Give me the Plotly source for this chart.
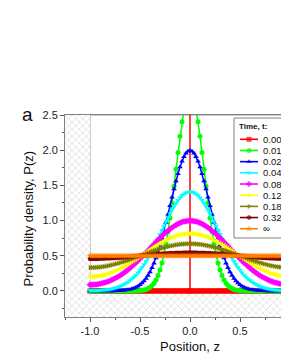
import plotly.graph_objects as go

# ---------------- data ----------------
z = [
    -1.00, -0.98, -0.96, -0.94, -0.92, -0.90, -0.88, -0.86, -0.84, -0.82,
    -0.80, -0.78, -0.76, -0.74, -0.72, -0.70, -0.68, -0.66, -0.64, -0.62,
    -0.60, -0.58, -0.56, -0.54, -0.52, -0.50, -0.48, -0.46, -0.44, -0.42,
    -0.40, -0.38, -0.36, -0.34, -0.32, -0.30, -0.28, -0.26, -0.24, -0.22,
    -0.20, -0.18, -0.16, -0.14, -0.12, -0.10, -0.08, -0.06, -0.04, -0.02,
    0.00,
    0.02, 0.04, 0.06, 0.08, 0.10, 0.12, 0.14, 0.16, 0.18, 0.20,
    0.22, 0.24, 0.26, 0.28, 0.30, 0.32, 0.34, 0.36, 0.38, 0.40,
    0.42, 0.44, 0.46, 0.48, 0.50, 0.52, 0.54, 0.56, 0.58, 0.60,
    0.62, 0.64, 0.66, 0.68, 0.70, 0.72, 0.74, 0.76, 0.78, 0.80,
    0.82, 0.84, 0.86, 0.88, 0.90, 0.92, 0.94, 0.96, 0.98, 1.00,
]

# t = 0: delta spike at z = 0 (grid point 0.00 repeated so the spike is vertical)
z_000 = [
    -1.00, -0.98, -0.96, -0.94, -0.92, -0.90, -0.88, -0.86, -0.84, -0.82,
    -0.80, -0.78, -0.76, -0.74, -0.72, -0.70, -0.68, -0.66, -0.64, -0.62,
    -0.60, -0.58, -0.56, -0.54, -0.52, -0.50, -0.48, -0.46, -0.44, -0.42,
    -0.40, -0.38, -0.36, -0.34, -0.32, -0.30, -0.28, -0.26, -0.24, -0.22,
    -0.20, -0.18, -0.16, -0.14, -0.12, -0.10, -0.08, -0.06, -0.04, -0.02,
    0.00, 0.00, 0.00,
    0.02, 0.04, 0.06, 0.08, 0.10, 0.12, 0.14, 0.16, 0.18, 0.20,
    0.22, 0.24, 0.26, 0.28, 0.30, 0.32, 0.34, 0.36, 0.38, 0.40,
    0.42, 0.44, 0.46, 0.48, 0.50, 0.52, 0.54, 0.56, 0.58, 0.60,
    0.62, 0.64, 0.66, 0.68, 0.70, 0.72, 0.74, 0.76, 0.78, 0.80,
    0.82, 0.84, 0.86, 0.88, 0.90, 0.92, 0.94, 0.96, 0.98, 1.00,
]
p_000 = [
    0, 0, 0, 0, 0, 0, 0, 0, 0, 0,
    0, 0, 0, 0, 0, 0, 0, 0, 0, 0,
    0, 0, 0, 0, 0, 0, 0, 0, 0, 0,
    0, 0, 0, 0, 0, 0, 0, 0, 0, 0,
    0, 0, 0, 0, 0, 0, 0, 0, 0, 0,
    0, 50.0, 0,
    0, 0, 0, 0, 0, 0, 0, 0, 0, 0,
    0, 0, 0, 0, 0, 0, 0, 0, 0, 0,
    0, 0, 0, 0, 0, 0, 0, 0, 0, 0,
    0, 0, 0, 0, 0, 0, 0, 0, 0, 0,
    0, 0, 0, 0, 0, 0, 0, 0, 0, 0,
]

p_001 = [
    0, 0, 0, 0, 0, 0, 0, 0, 0, 0,
    0, 0, 0, 0, 0, 0, 0, 0, 0, 0,
    0, 0.001, 0.001, 0.002, 0.003, 0.005, 0.009, 0.014, 0.022, 0.034,
    0.052, 0.076, 0.110, 0.157, 0.218, 0.297, 0.397, 0.520, 0.668, 0.841,
    1.038, 1.255, 1.487, 1.728, 1.968, 2.197, 2.404, 2.578, 2.710, 2.793,
    2.821,
    2.793, 2.710, 2.578, 2.404, 2.197, 1.968, 1.728, 1.487, 1.255, 1.038,
    0.841, 0.668, 0.520, 0.397, 0.297, 0.218, 0.157, 0.110, 0.076, 0.052,
    0.034, 0.022, 0.014, 0.009, 0.005, 0.003, 0.002, 0.001, 0.001, 0,
    0, 0, 0, 0, 0, 0, 0, 0, 0, 0,
    0, 0, 0, 0, 0, 0, 0, 0, 0, 0,
]

p_002 = [
    0, 0, 0, 0, 0, 0, 0, 0, 0, 0,
    0.001, 0.001, 0.001, 0.002, 0.003, 0.004, 0.006, 0.009, 0.012, 0.016,
    0.022, 0.030, 0.040, 0.052, 0.068, 0.088, 0.112, 0.142, 0.177, 0.220,
    0.270, 0.328, 0.395, 0.470, 0.555, 0.648, 0.749, 0.857, 0.971, 1.089,
    1.210, 1.331, 1.449, 1.562, 1.666, 1.761, 1.842, 1.907, 1.956, 1.985,
    1.995,
    1.985, 1.956, 1.907, 1.842, 1.761, 1.666, 1.562, 1.449, 1.331, 1.210,
    1.089, 0.971, 0.857, 0.749, 0.648, 0.555, 0.470, 0.395, 0.328, 0.270,
    0.220, 0.177, 0.142, 0.112, 0.088, 0.068, 0.052, 0.040, 0.030, 0.022,
    0.016, 0.012, 0.009, 0.006, 0.004, 0.003, 0.002, 0.001, 0.001, 0.001,
    0, 0, 0, 0, 0, 0, 0, 0, 0, 0,
]

p_004 = [
    0.005, 0.005, 0.006, 0.007, 0.008, 0.010, 0.012, 0.014, 0.017, 0.021,
    0.026, 0.031, 0.038, 0.046, 0.055, 0.066, 0.078, 0.093, 0.109, 0.128,
    0.149, 0.172, 0.199, 0.228, 0.260, 0.296, 0.334, 0.376, 0.420, 0.468,
    0.519, 0.572, 0.627, 0.685, 0.743, 0.803, 0.864, 0.924, 0.984, 1.042,
    1.098, 1.152, 1.201, 1.247, 1.289, 1.325, 1.355, 1.379, 1.396, 1.406,
    1.410,
    1.406, 1.396, 1.379, 1.355, 1.325, 1.289, 1.247, 1.201, 1.152, 1.098,
    1.042, 0.984, 0.924, 0.864, 0.803, 0.743, 0.685, 0.627, 0.572, 0.519,
    0.468, 0.420, 0.376, 0.334, 0.296, 0.260, 0.228, 0.199, 0.172, 0.149,
    0.128, 0.109, 0.093, 0.078, 0.066, 0.055, 0.046, 0.038, 0.031, 0.026,
    0.021, 0.017, 0.014, 0.012, 0.010, 0.008, 0.007, 0.006, 0.005, 0.005,
]

p_008 = [
    0.088, 0.088, 0.090, 0.093, 0.097, 0.102, 0.109, 0.116, 0.125, 0.135,
    0.146, 0.159, 0.172, 0.187, 0.203, 0.221, 0.239, 0.260, 0.280, 0.303,
    0.326, 0.351, 0.376, 0.402, 0.429, 0.458, 0.487, 0.516, 0.545, 0.575,
    0.605, 0.635, 0.665, 0.695, 0.724, 0.753, 0.781, 0.808, 0.833, 0.857,
    0.880, 0.901, 0.921, 0.938, 0.954, 0.967, 0.978, 0.986, 0.992, 0.996,
    0.997,
    0.996, 0.992, 0.986, 0.978, 0.967, 0.954, 0.938, 0.921, 0.901, 0.880,
    0.857, 0.833, 0.808, 0.781, 0.753, 0.724, 0.695, 0.665, 0.635, 0.605,
    0.575, 0.545, 0.516, 0.487, 0.458, 0.429, 0.402, 0.376, 0.351, 0.326,
    0.303, 0.280, 0.260, 0.239, 0.221, 0.203, 0.187, 0.172, 0.159, 0.146,
    0.135, 0.125, 0.116, 0.109, 0.102, 0.097, 0.093, 0.090, 0.088, 0.088,
]

p_012 = [
    0.203, 0.203, 0.205, 0.207, 0.212, 0.216, 0.222, 0.228, 0.236, 0.246,
    0.256, 0.266, 0.277, 0.290, 0.304, 0.317, 0.333, 0.348, 0.364, 0.381,
    0.399, 0.416, 0.435, 0.454, 0.472, 0.491, 0.511, 0.530, 0.549, 0.569,
    0.588, 0.606, 0.625, 0.643, 0.660, 0.677, 0.694, 0.709, 0.723, 0.737,
    0.750, 0.762, 0.773, 0.783, 0.791, 0.798, 0.804, 0.809, 0.812, 0.814,
    0.815,
    0.814, 0.812, 0.809, 0.804, 0.798, 0.791, 0.783, 0.773, 0.762, 0.750,
    0.737, 0.723, 0.709, 0.694, 0.677, 0.660, 0.643, 0.625, 0.606, 0.588,
    0.569, 0.549, 0.530, 0.511, 0.491, 0.472, 0.454, 0.435, 0.416, 0.399,
    0.381, 0.364, 0.348, 0.333, 0.317, 0.304, 0.290, 0.277, 0.266, 0.256,
    0.246, 0.236, 0.228, 0.222, 0.216, 0.212, 0.207, 0.205, 0.203, 0.203,
]

p_018 = [
    0.332, 0.332, 0.333, 0.335, 0.337, 0.340, 0.343, 0.347, 0.352, 0.357,
    0.363, 0.370, 0.377, 0.384, 0.392, 0.400, 0.409, 0.418, 0.427, 0.437,
    0.447, 0.457, 0.467, 0.478, 0.488, 0.499, 0.510, 0.520, 0.531, 0.541,
    0.552, 0.562, 0.572, 0.581, 0.590, 0.599, 0.608, 0.616, 0.623, 0.631,
    0.637, 0.643, 0.649, 0.654, 0.658, 0.662, 0.665, 0.667, 0.669, 0.670,
    0.670,
    0.670, 0.669, 0.667, 0.665, 0.662, 0.658, 0.654, 0.649, 0.643, 0.637,
    0.631, 0.623, 0.616, 0.608, 0.599, 0.590, 0.581, 0.572, 0.562, 0.552,
    0.541, 0.531, 0.520, 0.510, 0.499, 0.488, 0.478, 0.467, 0.457, 0.447,
    0.437, 0.427, 0.418, 0.409, 0.400, 0.392, 0.384, 0.377, 0.370, 0.363,
    0.357, 0.352, 0.347, 0.343, 0.340, 0.337, 0.335, 0.333, 0.332, 0.332,
]

p_032 = [
    0.457, 0.458, 0.458, 0.458, 0.459, 0.460, 0.460, 0.461, 0.463, 0.464,
    0.465, 0.467, 0.469, 0.471, 0.473, 0.475, 0.477, 0.479, 0.482, 0.484,
    0.487, 0.489, 0.492, 0.495, 0.497, 0.500, 0.503, 0.505, 0.508, 0.511,
    0.513, 0.516, 0.518, 0.520, 0.523, 0.525, 0.527, 0.529, 0.531, 0.533,
    0.535, 0.536, 0.537, 0.538, 0.540, 0.540, 0.541, 0.542, 0.542, 0.542,
    0.543,
    0.542, 0.542, 0.542, 0.541, 0.540, 0.540, 0.538, 0.537, 0.536, 0.535,
    0.533, 0.531, 0.529, 0.527, 0.525, 0.523, 0.520, 0.518, 0.516, 0.513,
    0.511, 0.508, 0.505, 0.503, 0.500, 0.497, 0.495, 0.492, 0.489, 0.487,
    0.484, 0.482, 0.479, 0.477, 0.475, 0.473, 0.471, 0.469, 0.467, 0.465,
    0.464, 0.463, 0.461, 0.460, 0.460, 0.459, 0.458, 0.458, 0.458, 0.457,
]

p_inf = [
    0.5, 0.5, 0.5, 0.5, 0.5, 0.5, 0.5, 0.5, 0.5, 0.5,
    0.5, 0.5, 0.5, 0.5, 0.5, 0.5, 0.5, 0.5, 0.5, 0.5,
    0.5, 0.5, 0.5, 0.5, 0.5, 0.5, 0.5, 0.5, 0.5, 0.5,
    0.5, 0.5, 0.5, 0.5, 0.5, 0.5, 0.5, 0.5, 0.5, 0.5,
    0.5, 0.5, 0.5, 0.5, 0.5, 0.5, 0.5, 0.5, 0.5, 0.5,
    0.5,
    0.5, 0.5, 0.5, 0.5, 0.5, 0.5, 0.5, 0.5, 0.5, 0.5,
    0.5, 0.5, 0.5, 0.5, 0.5, 0.5, 0.5, 0.5, 0.5, 0.5,
    0.5, 0.5, 0.5, 0.5, 0.5, 0.5, 0.5, 0.5, 0.5, 0.5,
    0.5, 0.5, 0.5, 0.5, 0.5, 0.5, 0.5, 0.5, 0.5, 0.5,
    0.5, 0.5, 0.5, 0.5, 0.5, 0.5, 0.5, 0.5, 0.5, 0.5,
]

series_names = ["0.00", "0.01", "0.02", "0.04", "0.08", "0.12", "0.18", "0.32", "\u221e"]
series_x = [z_000, z, z, z, z, z, z, z, z]
series_values = [p_000, p_001, p_002, p_004, p_008, p_012, p_018, p_032, p_inf]
series_colors = ["#FF0000", "#00FF00", "#0000FF", "#00FFFF", "#FF00FF",
                 "#FFFF00", "#808000", "#800000", "#FF8000"]
series_symbols = ["square", "circle", "triangle-up", "triangle-down", "diamond",
                  "triangle-left", "triangle-right", "hexagon", "star"]

# tick labels (plain hyphen minus, as in the original)
x_tick_vals = [-1.0, -0.5, 0.0, 0.5]
x_tick_text = ["-1.0", "-0.5", "0.0", "0.5"]
y_tick_vals = [0.0, 0.5, 1.0, 1.5, 2.0, 2.5]
y_tick_text = ["0.0", "0.5", "1.0", "1.5", "2.0", "2.5"]

for xs, v in zip(series_x, series_values):
    assert len(v) == len(xs), len(v)

# box (reflecting walls) and axis limits
wall_lo, wall_hi = -1.0, 1.0
p_floor, p_top = 0.0, 2.5
x_range = [-1.25, 0.91]
y_range = [-0.37, 2.5]

# plot-area pixel frame (used by the overlay axes for the legend block)
W, H = 281, 363
ML, MR, MT, MB = 65, 0, 115, 46

fig = go.Figure()

# hatched excluded region (outside the box and below P=0)
hx = [-1.4, 1.4, 1.4, wall_lo, wall_lo, -1.4, -1.4]
hy = [-0.6, -0.6, p_floor, p_floor, 2.8, 2.8, -0.6]
fig.add_trace(go.Scatter(
    x=hx, y=hy, mode="lines", fill="toself", line=dict(width=0),
    fillcolor="white",
    fillpattern=dict(shape="x", fgcolor="#b4b4b4", bgcolor="white", size=5, solidity=0.25),
    hoverinfo="skip", showlegend=False,
))

for name, xs, vals, col, sym in zip(series_names, series_x, series_values,
                                    series_colors, series_symbols):
    fig.add_trace(go.Scatter(
        x=xs, y=vals, name=name, mode="lines+markers",
        line=dict(color=col, width=1.5),
        marker=dict(color=col, symbol=sym, size=5, line=dict(width=0)),
        showlegend=False,
    ))

# ---- hand-built compact legend (overlay axes in pixel units) ----
leg_left, leg_top, leg_bottom = 234, 118, 238
row0, row_step = 139.3, 11.18
samp_x0, samp_x1, text_x = 240, 258, 261
fig.add_trace(go.Scatter(
    x=[leg_left, W + 20, W + 20, leg_left, leg_left],
    y=[leg_top, leg_top, leg_bottom, leg_bottom, leg_top],
    xaxis="x2", yaxis="y2", mode="lines", fill="toself",
    fillcolor="white", line=dict(color="#808080", width=1),
    hoverinfo="skip", showlegend=False,
))
annotations = []
for i, (name, col, sym) in enumerate(zip(series_names, series_colors, series_symbols)):
    yy = row0 + i * row_step
    fig.add_trace(go.Scatter(
        x=[samp_x0, (samp_x0 + samp_x1) / 2, samp_x1], y=[yy, yy, yy],
        xaxis="x2", yaxis="y2", mode="lines+markers",
        line=dict(color=col, width=1.6),
        marker=dict(color=col, symbol=sym, size=[0, 5, 0], line=dict(width=0)),
        hoverinfo="skip", showlegend=False,
    ))
    annotations.append(dict(
        text=name, xref="x2", yref="y2", x=text_x, y=yy, xanchor="left",
        yanchor="middle", showarrow=False, font=dict(size=9.5, color="#111"),
    ))
annotations.append(dict(
    text="<b>Time, t:</b>", xref="x2", yref="y2", x=237, y=126.5, xanchor="left",
    yanchor="middle", showarrow=False, font=dict(size=8, color="#111"),
))

font_family = "Liberation Sans, Arial, sans-serif"

annotations += [
    dict(text="a", xref="paper", yref="paper", x=(27 - ML) / (W - ML - MR),
         y=(H - MB - 114) / (H - MT - MB),
         xanchor="center", yanchor="middle", showarrow=False,
         font=dict(size=19, color="#111")),
    dict(text="Probability density, P(z)", xref="paper", yref="paper",
         x=(28 - ML) / (W - ML - MR), y=(H - MB - 218.5) / (H - MT - MB),
         textangle=-90, xanchor="center", yanchor="middle",
         showarrow=False, font=dict(size=13, color="#111")),
    dict(text="Position, z", xref="x", yref="paper", x=0,
         y=(H - MB - 346) / (H - MT - MB),
         xanchor="center", yanchor="middle", showarrow=False,
         font=dict(size=13, color="#111")),
]

fig.update_layout(
    width=W, height=H,
    margin=dict(l=ML, r=MR, t=MT, b=MB, pad=0),
    paper_bgcolor="white", plot_bgcolor="white",
    font=dict(family=font_family, size=11, color="#222"),
    showlegend=False,
    hovermode=False,
    xaxis=dict(
        range=x_range, showgrid=False, zeroline=False,
        tickmode="array", tickvals=x_tick_vals, ticktext=x_tick_text,
        ticks="outside", ticklen=4, tickcolor="#555",
        showline=True, linecolor="#808080", linewidth=1, mirror=True,
        minor=dict(dtick=0.25, tick0=0, ticks="outside", ticklen=2, tickcolor="#555"),
        tickfont=dict(size=11),
    ),
    yaxis=dict(
        range=y_range, showgrid=False, zeroline=False,
        tickmode="array", tickvals=y_tick_vals, ticktext=y_tick_text,
        ticks="outside", ticklen=4, tickcolor="#555",
        showline=True, linecolor="#808080", linewidth=1,
        minor=dict(dtick=0.25, tick0=0, ticks="outside", ticklen=2, tickcolor="#555"),
        tickfont=dict(size=11),
    ),
    xaxis2=dict(overlaying="x", anchor="y2", range=[ML, W - MR], visible=False,
                fixedrange=True),
    yaxis2=dict(overlaying="y", anchor="x2", range=[H - MB, MT], visible=False,
                fixedrange=True),
    shapes=[dict(type="rect", xref="x", yref="y", x0=wall_lo, x1=wall_hi,
                 y0=p_floor, y1=p_top, line=dict(color="#9a9a9a", width=1),
                 layer="below")],
    annotations=annotations,
)

fig.write_html(
    "out.html",
    config={"displayModeBar": False, "staticPlot": True},
    post_script="document.body.style.margin='0';document.body.style.padding='0';",
)
